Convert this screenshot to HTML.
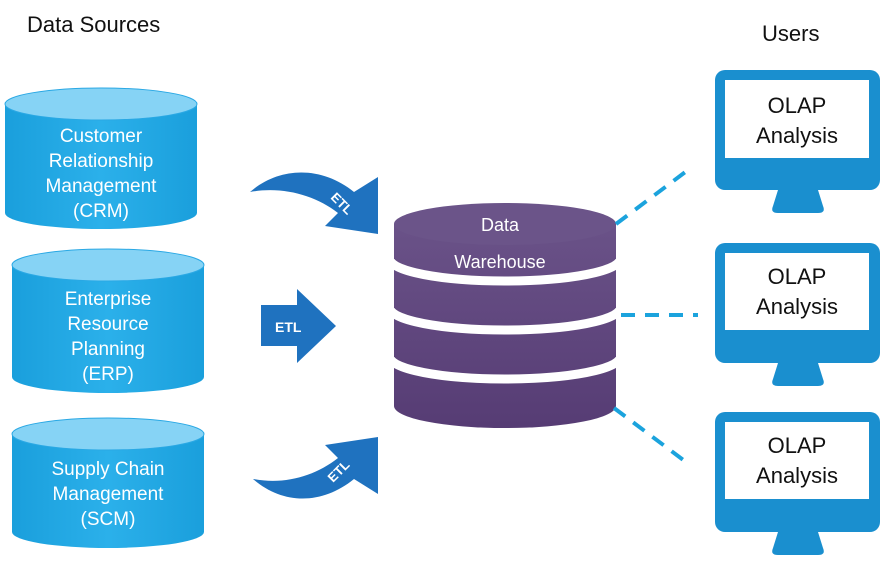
<!DOCTYPE html>
<html><head><meta charset="utf-8"><style>
html,body{margin:0;padding:0;background:#fff;}
svg{display:block;}
text{font-family:"Liberation Sans",Arial,sans-serif;}
</style></head><body>
<svg width="881" height="566" viewBox="0 0 881 566" xmlns="http://www.w3.org/2000/svg">
<defs>
<linearGradient id="bl" x1="0" x2="1" y1="0" y2="0">
<stop offset="0" stop-color="#1a9fdc"/><stop offset="0.5" stop-color="#2bb0ea"/><stop offset="1" stop-color="#1a9fdc"/>
</linearGradient>
<linearGradient id="pu" x1="0" x2="0" y1="0" y2="1">
<stop offset="0" stop-color="#6a5288"/><stop offset="1" stop-color="#563c74"/>
</linearGradient>
</defs>
<text x="27" y="32" font-size="22" fill="#111">Data Sources</text>
<text x="762" y="41" font-size="22" fill="#111">Users</text>

<g>
<path d="M5 104 L5 213 A96 16 0 0 0 197 213 L197 104 Z" fill="url(#bl)"/>
<ellipse cx="101" cy="104" rx="96" ry="16" fill="#86d3f5" stroke="#2aa8e4" stroke-width="1"/>
<g fill="#fff" font-size="19" text-anchor="middle">
<text x="101" y="142">Customer</text><text x="101" y="167">Relationship</text><text x="101" y="192">Management</text><text x="101" y="217">(CRM)</text>
</g>
</g>
<g>
<path d="M12 265 L12 377 A96 16 0 0 0 204 377 L204 265 Z" fill="url(#bl)"/>
<ellipse cx="108" cy="265" rx="96" ry="16" fill="#86d3f5" stroke="#2aa8e4" stroke-width="1"/>
<g fill="#fff" font-size="19" text-anchor="middle">
<text x="108" y="305">Enterprise</text><text x="108" y="330">Resource</text><text x="108" y="355">Planning</text><text x="108" y="380">(ERP)</text>
</g>
</g>
<g>
<path d="M12 434 L12 532 A96 16 0 0 0 204 532 L204 434 Z" fill="url(#bl)"/>
<ellipse cx="108" cy="434" rx="96" ry="16" fill="#86d3f5" stroke="#2aa8e4" stroke-width="1"/>
<g fill="#fff" font-size="19" text-anchor="middle">
<text x="108" y="475">Supply Chain</text><text x="108" y="500">Management</text><text x="108" y="525">(SCM)</text>
</g>
</g>

<path d="M250 192 C280 166 322 166 354 192 L378 177 L378 234 L325 226 L338 213 C315 195 282 186 250 192 Z" fill="#1f72bf"/>
<text x="0" y="0" font-size="13" font-weight="bold" fill="#fff" transform="translate(330 198) rotate(45)">ETL</text>
<g transform="translate(0 671) scale(1 -1)">
<path d="M253 192 C283 166 322 166 354 192 L378 177 L378 234 L325 226 L338 213 C315 195 285 186 253 192 Z" fill="#1f72bf"/>
</g>
<text x="0" y="0" font-size="13" font-weight="bold" fill="#fff" transform="translate(333 483) rotate(-45)">ETL</text>
<path d="M261 305 L297 305 L297 289 L336 326 L297 363 L297 346 L261 346 Z" fill="#1f72bf"/>
<text x="275" y="332" font-size="14" font-weight="bold" fill="#fff">ETL</text>

<path d="M394 224 L394 406 A111 22 0 0 0 616 406 L616 224 Z" fill="url(#pu)"/>
<ellipse cx="505" cy="224" rx="111" ry="21" fill="#6b5489"/>
<g fill="none" stroke="#fff" stroke-width="9">
<path d="M390 259 A115 22 0 0 0 620 259"/>
<path d="M390 308 A115 22 0 0 0 620 308"/>
<path d="M390 357 A115 22 0 0 0 620 357"/>
</g>
<text x="500" y="231" font-size="18" fill="#fff" text-anchor="middle">Data</text>
<text x="500" y="268" font-size="18" fill="#fff" text-anchor="middle">Warehouse</text>

<g stroke="#1ba3dd" stroke-width="4" stroke-dasharray="14 10" fill="none">
<line x1="616" y1="224" x2="688" y2="170"/>
<line x1="621" y1="315" x2="698" y2="315"/>
<line x1="614" y1="408" x2="686" y2="462"/>
</g>

<g>
<rect x="715" y="70" width="165" height="120" rx="10" fill="#1a8fcf"/>
<rect x="725" y="80" width="144" height="78" fill="#fff"/>
<path d="M778 190 L818 190 L823 206 Q826 213 818 213 L778 213 Q770 213 773 206 Z" fill="#1a8fcf"/>
<text x="797" y="113" font-size="22" fill="#111" text-anchor="middle">OLAP</text>
<text x="797" y="143" font-size="22" fill="#111" text-anchor="middle">Analysis</text>
</g>
<g>
<rect x="715" y="243" width="165" height="120" rx="10" fill="#1a8fcf"/>
<rect x="725" y="253" width="144" height="77" fill="#fff"/>
<path d="M778 363 L818 363 L823 379 Q826 386 818 386 L778 386 Q770 386 773 379 Z" fill="#1a8fcf"/>
<text x="797" y="284" font-size="22" fill="#111" text-anchor="middle">OLAP</text>
<text x="797" y="314" font-size="22" fill="#111" text-anchor="middle">Analysis</text>
</g>
<g>
<rect x="715" y="412" width="165" height="120" rx="10" fill="#1a8fcf"/>
<rect x="725" y="422" width="144" height="77" fill="#fff"/>
<path d="M778 532 L818 532 L823 548 Q826 555 818 555 L778 555 Q770 555 773 548 Z" fill="#1a8fcf"/>
<text x="797" y="453" font-size="22" fill="#111" text-anchor="middle">OLAP</text>
<text x="797" y="483" font-size="22" fill="#111" text-anchor="middle">Analysis</text>
</g>
</svg>
</body></html>
